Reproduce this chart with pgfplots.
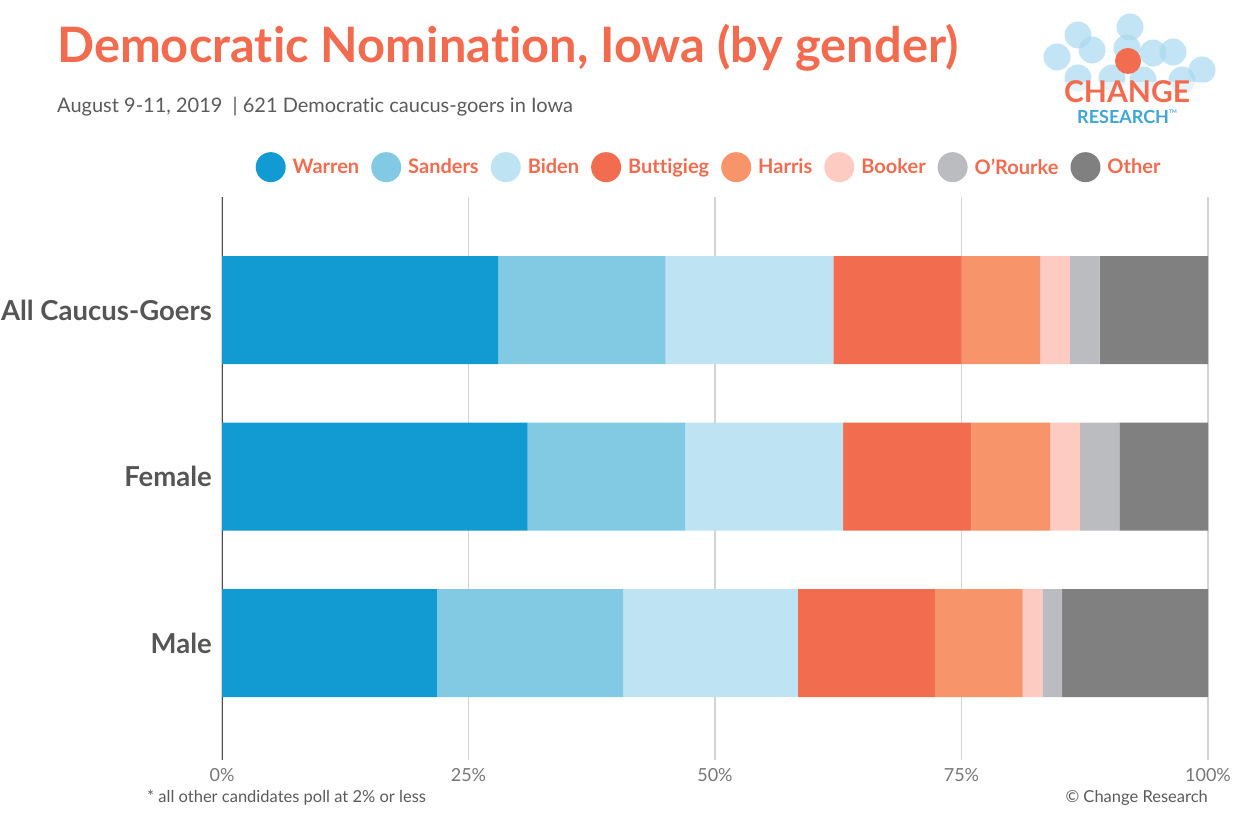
\documentclass[border=0pt]{standalone}
\usepackage{pgfplots}
\pgfplotsset{compat=1.18}
\usepackage{pgfplotstable}
\usepackage{fontspec}
\setmainfont{Lato}[Ligatures={NoCommon}]
\definecolor{cWarren}{HTML}{129BD3}
\definecolor{cSanders}{HTML}{82CAE3}
\definecolor{cBiden}{HTML}{BEE3F2}
\definecolor{cButtigieg}{HTML}{F26C4F}
\definecolor{cHarris}{HTML}{F89469}
\definecolor{cBooker}{HTML}{FDCBC2}
\definecolor{cORourke}{HTML}{BBBCC0}
\definecolor{cOther}{HTML}{808080}
\definecolor{titleC}{HTML}{F26B4F}
\definecolor{catgray}{HTML}{555555}
\definecolor{tickgray}{HTML}{777777}
\definecolor{subgray}{HTML}{5A5A5A}
\definecolor{logoblue}{HTML}{A9D9EF}
\definecolor{logotext}{HTML}{3FA6D8}

\pgfplotstableread{
idx Warren Sanders Biden Buttigieg Harris Booker ORourke Other
0 28 17 17 13 8 3 3 11
1 31 16 16 13 8 3 4 9
2 21.8 18.9 17.7 13.9 8.9 2.0 2.0 14.8
}\data

\begin{document}
\begin{tikzpicture}[x=1pt,y=1pt]
\path[use as bounding box] (0pt,0pt) rectangle (1241pt,817pt);
% title
\node[anchor=base west, font=\fontsize{48.8}{54}\selectfont\bfseries, text=titleC, inner sep=0] at (57pt,754pt) {Democratic Nomination, Iowa (by gender)};
\node[anchor=base west, font=\fontsize{20}{24}\selectfont, text=subgray, inner sep=0] at (57pt,704pt) {August 9-11, 2019 \ \textbar\ 621 Democratic caucus-goers in Iowa};
% logo
\foreach \px/\py in {1057/57, 1078/35, 1092/50, 1130/27, 1127/48, 1153/53, 1173/52, 1202/70, 1078/78, 1182/80, 1143/80, 1112/78}
  \fill[logoblue, opacity=0.7] (\px pt,817pt-\py pt) circle (13.5pt);
\fill[white, opacity=0.6] (1050pt,735pt) rectangle (1220pt,689pt);
\fill[cButtigieg] (1128pt,756pt) circle (13pt);
\node[anchor=base, font=\fontsize{30}{32}\selectfont\bfseries, text=titleC, inner sep=0] at (1127pt,714pt) {CHANGE};
\node[anchor=base, font=\fontsize{18}{20}\selectfont\bfseries, text=logotext, inner sep=0] at (1127pt,693pt) {RESEARCH\raisebox{0.6em}{\fontsize{5}{5}\selectfont TM}};
% footer
\node[anchor=base west, font=\fontsize{16.5}{18}\selectfont, text=subgray, inner sep=0] at (147pt,15pt) {* all other candidates poll at 2\% or less};
\node[anchor=base east, font=\fontsize{16.5}{18}\selectfont, text=subgray, inner sep=0] at (1208pt,15pt) {© Change Research};

\begin{axis}[
  at={(222pt,57pt)}, anchor=south west,
  width=986pt, height=563pt, scale only axis,
  xbar stacked, bar width=108pt,
  xmin=0, xmax=100, ymin=-0.679, ymax=2.702, y dir=reverse,
  ytick={0,1,2}, yticklabels={All Caucus-Goers, Female, Male},
  xtick={0,25,50,75,100},
  xticklabel={\pgfmathprintnumber{\tick}\%},
  /pgf/number format/assume math mode=true,
  axis line style={draw=none}, tick style={draw=none},
  xmajorgrids, grid style={color=black!17, line width=1.3pt},
  xticklabel style={font=\fontsize{18}{20}\selectfont, text=tickgray, inner sep=0pt, anchor=north, yshift=-8pt},
  yticklabel style={font=\fontsize{27.5}{30}\selectfont\bfseries, text=catgray, inner sep=0pt, anchor=east, xshift=-10pt},
  legend columns=8,
  legend style={at={(0.493,1.053)}, anchor=center, draw=none, fill=none,
    font=\fontsize{20}{22}\selectfont\bfseries, text=titleC,
    nodes={inner sep=0pt},
    /tikz/every odd column/.append style={column sep=7pt},
    /tikz/every even column/.append style={column sep=12pt}},
  legend image code/.code={\fill[#1,draw=none] (0pt,0pt) circle (15pt);},
]
\addplot[fill=cWarren, draw=none] table[x=Warren, y=idx] {\data};
\addplot[fill=cSanders, draw=none] table[x=Sanders, y=idx] {\data};
\addplot[fill=cBiden, draw=none] table[x=Biden, y=idx] {\data};
\addplot[fill=cButtigieg, draw=none] table[x=Buttigieg, y=idx] {\data};
\addplot[fill=cHarris, draw=none] table[x=Harris, y=idx] {\data};
\addplot[fill=cBooker, draw=none] table[x=Booker, y=idx] {\data};
\addplot[fill=cORourke, draw=none] table[x=ORourke, y=idx] {\data};
\addplot[fill=cOther, draw=none] table[x=Other, y=idx] {\data};
\legend{Warren, Sanders, Biden, Buttigieg, Harris, Booker, O’Rourke, Other}
\draw[color=black!70, line width=1.5pt] (rel axis cs:0,0) -- (rel axis cs:0,1);
\end{axis}
\end{tikzpicture}
\end{document}
